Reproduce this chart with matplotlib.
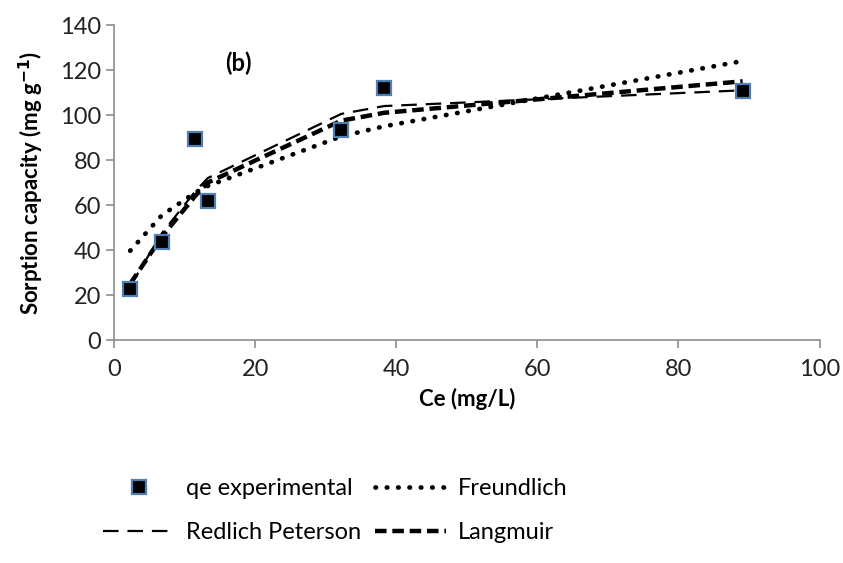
import matplotlib.pyplot as plt

# experimental equilibrium data
ce = [2.3, 6.8, 11.5, 13.3, 32.2, 38.3, 89.1]
qe_exp = [22.8, 43.6, 89.2, 61.8, 93.3, 112.1, 110.8]

# model predictions at the same Ce values
freundlich = [39.7, 55.5, 65.5, 68.5, 90.5, 95.0, 124.0]
langmuir = [25.0, 46.0, 64.0, 70.0, 97.5, 101.0, 115.0]
redlich_peterson = [24.0, 47.5, 66.0, 72.0, 100.5, 104.0, 111.0]

plt.rcParams["font.family"] = ["Lato", "DejaVu Sans"]

fig = plt.figure(figsize=(8.43, 5.63), dpi=100)
ax = fig.add_axes([0.1352, 0.396, 0.837, 0.5595])

grey = "#8c8c8c"

(rp_line,) = ax.plot(ce, redlich_peterson, color="black", linewidth=1.6,
                     dashes=(7, 4), label="Redlich Peterson")
(fr_line,) = ax.plot(ce, freundlich, color="black", linewidth=3.4,
                     linestyle=(0, (0.1, 2.3)), dash_capstyle="round",
                     label="Freundlich")
(la_line,) = ax.plot(ce, langmuir, color="black", linewidth=3.2,
                     dashes=(2.6, 1.3), label="Langmuir")
(qe_pts,) = ax.plot(ce, qe_exp, linestyle="none", marker="s", markersize=10,
                    markerfacecolor="black", markeredgecolor="#4f7fb5",
                    markeredgewidth=1.6, label="qe experimental", zorder=5)

ax.set_xlim(0, 100)
ax.set_ylim(0, 140)
ax.set_xticks(range(0, 101, 20))
ax.set_yticks(range(0, 141, 20))

for side in ("top", "right"):
    ax.spines[side].set_visible(False)
for side in ("left", "bottom"):
    ax.spines[side].set_color(grey)
    ax.spines[side].set_linewidth(1.2)
ax.tick_params(colors=grey, labelcolor="#222222", labelsize=17, length=6,
               width=1.2, direction="out")
ax.tick_params(axis="x", pad=8)

ax.set_xlabel("Ce (mg/L)", fontsize=16, fontweight="bold", labelpad=5)
ax.set_ylabel("Sorption capacity (mg g$^{\\mathbf{-1}}$)", fontsize=16,
              fontweight="bold", labelpad=10)

ax.text(17.7, 123, "(b)", fontsize=17, fontweight="bold", ha="center",
        va="center")

ax.legend(handles=[qe_pts, rp_line, fr_line, la_line], ncol=2,
          loc="upper left", bbox_to_anchor=(-0.045, -0.37), frameon=False,
          fontsize=17, handlelength=3.0, columnspacing=0.6,
          labelspacing=1.0, handletextpad=0.5)

fig.savefig("out.png", dpi=100)
